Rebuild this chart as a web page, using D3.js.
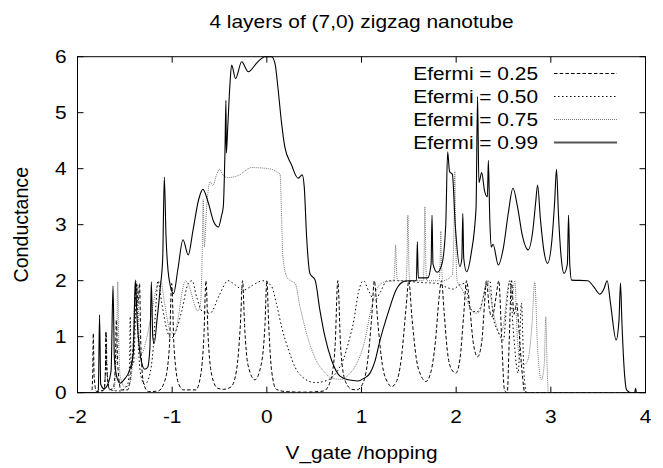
<!DOCTYPE html>
<html>
<head>
<meta charset="utf-8">
<script src="https://cdn.jsdelivr.net/npm/d3@7"></script>
<style>
  body { margin: 0; background: #fff; }
  text { font-family: "Liberation Sans", Arial, sans-serif; fill: #000; }
</style>
</head>
<body>
<svg id="chart" width="663" height="468"></svg>
<script>
// ---- data ----
const titleText = "4 layers of (7,0) zigzag nanotube";
const xLabel = "V_gate /hopping";
const yLabel = "Conductance";
const xTicks = [-2, -1, 0, 1, 2, 3, 4];
const yTicks = [0, 1, 2, 3, 4, 5, 6];
const seriesNames = ["Efermi = 0.25", "Efermi = 0.50", "Efermi = 0.75", "Efermi = 0.99"];

const ef025 = [
  [-2,0],[-1.85,0],[-1.84,0.3],[-1.833,1.06],[-1.825,0.3],[-1.8,0.02],[-1.72,0.05],[-1.705,0.4],[-1.7,1.09],
  [-1.69,0.4],[-1.66,0.05],[-1.62,0.1],[-1.6,0.5],[-1.59,1.3],[-1.575,0.5],[-1.54,0.05],[-1.47,0.05],[-1.44,0.3],
  [-1.4,1.2],[-1.38,1.95],[-1.36,1.6],[-1.345,1.95],[-1.33,0.8],[-1.3,0.15],[-1.25,0.02],[-1.15,0.03],[-1.08,0.2],
  [-1.03,0.8],[-1.005,1.95],[-0.98,0.8],[-0.93,0.15],[-0.88,0.05],[-0.75,0.05],[-0.7,0.3],[-0.665,1.0],[-0.643,2.0],
  [-0.62,1.0],[-0.58,0.3],[-0.52,0.08],[-0.46,0.06],[-0.38,0.1],[-0.32,0.4],[-0.28,1.2],[-0.256,2.0],[-0.235,1.2],
  [-0.2,0.5],[-0.126,0.23],[-0.06,0.5],[-0.02,1.2],[0.0,2.0],[0.02,1.2],[0.05,0.4],[0.1,0.06],[0.2,0.02],[0.4,0.01],
  [0.6,0.03],[0.67,0.2],[0.72,0.8],[0.75,2.0],[0.78,0.8],[0.83,0.2],[0.9,0.06],[0.95,0.05],[1.0,0.12],[1.06,0.5],
  [1.11,1.4],[1.135,2.0],[1.17,1.3],[1.22,0.5],[1.27,0.2],[1.32,0.11],[1.37,0.2],[1.42,0.6],[1.47,1.5],[1.5,2.0],
  [1.53,1.4],[1.58,0.6],[1.63,0.3],[1.68,0.2],[1.73,0.35],[1.78,0.9],[1.82,1.7],[1.846,2.0],[1.87,1.5],[1.91,0.7],
  [1.95,0.42],[1.997,0.35],[2.04,0.6],[2.08,1.4],[2.11,2.0],[2.14,1.6],[2.18,0.9],[2.226,0.64],[2.27,0.9],[2.3,1.6],
  [2.32,2.0],[2.35,1.5],[2.38,1.35],[2.42,1.7],[2.45,2.0],[2.48,1.0],[2.51,0.05],[2.54,0.0],[2.56,0.9],[2.585,2.0],
  [2.61,1.4],[2.64,1.6],[2.66,1.2],[2.7,0.3],[2.725,0.0],[4,0]
];

const ef050 = [
  [-2,0],[-1.75,0],[-1.72,0.05],[-1.705,0.4],[-1.697,1.07],[-1.688,0.4],[-1.66,0.05],[-1.55,0.03],[-1.47,0.15],
  [-1.45,0.5],[-1.443,1.36],[-1.435,0.5],[-1.41,0.5],[-1.39,1.2],[-1.375,1.95],[-1.36,1.0],[-1.33,0.3],[-1.29,0.15],
  [-1.24,0.3],[-1.2,0.8],[-1.17,1.6],[-1.15,2.0],[-1.11,1.6],[-1.06,1.15],[-1.01,0.97],[-0.95,1.15],[-0.9,1.45],
  [-0.83,1.95],[-0.79,2.0],[-0.74,1.7],[-0.68,1.45],[-0.6,1.42],[-0.5,1.75],[-0.41,2.0],[-0.33,1.92],[-0.25,1.83],
  [-0.15,1.92],[-0.04,2.0],[0.05,1.9],[0.1,1.6],[0.16,1.15],[0.23,0.76],[0.3,0.45],[0.37,0.29],[0.51,0.18],
  [0.65,0.23],[0.75,0.4],[0.81,0.6],[0.86,0.88],[0.92,1.3],[0.965,1.77],[1.02,2.0],[1.08,1.8],[1.14,1.65],[1.2,1.8],
  [1.27,2.0],[1.4,2.0],[1.6,1.97],[1.8,1.95],[1.9,1.88],[1.97,1.85],[2.03,1.92],[2.09,1.95],[2.145,1.54],[2.18,1.45],
  [2.23,1.45],[2.28,1.65],[2.32,1.95],[2.356,2.0],[2.39,1.36],[2.44,1.1],[2.5,0.94],[2.53,1.5],[2.567,2.0],[2.6,1.2],
  [2.655,0.35],[2.69,1.6],[2.715,0.4],[2.743,0.0],[4,0]
];

const ef075 = [
  [-2,0],[-1.62,0],[-1.6,0.3],[-1.585,1.0],[-1.575,1.98],[-1.565,1.0],[-1.55,0.3],[-1.5,0.1],[-1.45,0.15],[-1.42,0.5],
  [-1.4,1.5],[-1.385,2.0],[-1.365,1.9],[-1.35,1.0],[-1.32,0.7],[-1.28,0.9],[-1.22,1.4],[-1.16,1.9],[-1.12,1.99],
  [-1.08,1.6],[-1.03,1.15],[-0.98,1.05],[-0.93,1.4],[-0.9,1.75],[-0.86,2.0],[-0.81,1.85],[-0.76,1.55],[-0.73,1.46],
  [-0.7,1.6],[-0.685,2.3],[-0.672,3.45],[-0.66,2.6],[-0.64,3.2],[-0.62,3.6],[-0.6,3.77],[-0.57,3.7],[-0.53,3.9],
  [-0.5,3.99],[-0.46,3.88],[-0.41,3.84],[-0.3,3.88],[-0.16,4.02],[0.02,4.0],[0.1,3.95],[0.14,3.9],[0.156,3.14],
  [0.17,2.43],[0.21,2.07],[0.25,2.0],[0.3,1.95],[0.35,1.54],[0.44,0.94],[0.54,0.52],[0.62,0.35],[0.68,0.26],
  [0.79,0.24],[0.88,0.35],[0.93,0.46],[1.036,0.94],[1.107,1.54],[1.176,1.89],[1.247,1.98],[1.34,2.0],[1.35,2.2],
  [1.36,2.64],[1.37,2.2],[1.38,2.0],[1.47,2.0],[1.48,2.3],[1.49,3.17],[1.5,2.3],[1.51,2.0],[1.65,2.0],[1.66,2.3],
  [1.67,3.32],[1.68,2.3],[1.69,2.0],[1.82,2.0],[1.83,2.3],[1.838,2.88],[1.845,2.3],[1.86,2.0],[1.96,2.1],[1.975,2.8],
  [1.986,3.95],[1.995,2.8],[2.01,2.0],[2.06,1.85],[2.1,1.7],[2.15,1.5],[2.2,1.42],[2.25,1.45],[2.29,1.75],[2.33,2.0],
  [2.36,1.75],[2.41,1.3],[2.46,1.05],[2.5,1.2],[2.54,1.8],[2.567,2.0],[2.59,1.7],[2.62,2.0],[2.645,1.0],[2.68,0.55],
  [2.72,0.5],[2.76,0.6],[2.8,1.2],[2.83,1.98],[2.86,0.8],[2.9,0.23],[2.93,0.5],[2.947,1.36],[2.96,0.5],[2.975,0],[4,0]
];

const ef099 = [
  [-2,0],[-1.8,0],[-1.78,0.05],[-1.767,1.39],[-1.755,0.15],[-1.72,0.07],[-1.68,0.15],[-1.645,0.4],[-1.625,1.91],
  [-1.61,0.6],[-1.58,0.25],[-1.55,0.17],[-1.5,0.25],[-1.45,0.4],[-1.41,0.7],[-1.39,2.01],[-1.37,1.3],[-1.33,0.6],
  [-1.29,0.42],[-1.26,0.45],[-1.235,0.8],[-1.22,1.98],[-1.205,1.0],[-1.19,0.88],[-1.16,1.3],[-1.125,1.89],[-1.1,2.4],
  [-1.083,3.85],[-1.065,2.8],[-1.03,2.0],[-0.985,1.77],[-0.94,2.2],[-0.886,2.73],[-0.83,2.46],[-0.78,2.9],
  [-0.72,3.45],[-0.675,3.63],[-0.62,3.4],[-0.56,3.05],[-0.51,2.96],[-0.48,3.15],[-0.46,3.32],[-0.442,4.33],
  [-0.432,5.22],[-0.428,4.28],[-0.414,4.7],[-0.39,5.5],[-0.372,5.85],[-0.33,5.61],[-0.266,5.91],[-0.196,5.73],
  [-0.1,5.9],[-0.02,6.0],[0.05,6.0],[0.086,5.88],[0.12,5.4],[0.156,4.81],[0.19,4.39],[0.26,4.07],[0.33,3.83],
  [0.374,3.89],[0.395,3.68],[0.42,2.79],[0.455,2.13],[0.51,2.01],[0.56,1.48],[0.614,1.0],[0.684,0.58],[0.77,0.3],
  [0.86,0.23],[0.96,0.21],[1.03,0.26],[1.09,0.35],[1.14,0.55],[1.19,0.9],[1.28,1.42],[1.37,1.85],[1.44,1.98],
  [1.5,2.0],[1.58,2.0],[1.59,2.7],[1.6,2.05],[1.7,2.05],[1.735,2.3],[1.745,3.17],[1.755,2.3],[1.8,2.15],[1.85,2.3],
  [1.89,3.0],[1.91,4.3],[1.93,3.95],[1.96,3.9],[1.99,3.0],[2.04,2.25],[2.06,2.4],[2.07,3.2],[2.08,2.4],[2.11,2.16],
  [2.16,2.5],[2.21,3.3],[2.226,5.29],[2.24,3.75],[2.27,3.93],[2.3,3.6],[2.33,3.5],[2.34,4.15],[2.355,3.1],[2.37,2.6],
  [2.39,2.65],[2.445,2.28],[2.5,2.6],[2.55,3.2],[2.6,3.65],[2.65,3.3],[2.7,2.8],[2.76,2.55],[2.81,2.9],[2.84,3.4],
  [2.86,3.71],[2.89,3.1],[2.93,2.5],[2.965,2.31],[3.01,2.7],[3.04,3.4],[3.06,3.99],[3.08,3.2],[3.11,2.4],[3.14,2.13],
  [3.175,2.3],[3.187,3.17],[3.2,2.3],[3.22,2.01],[3.39,2.0],[3.45,1.9],[3.52,1.76],[3.56,1.85],[3.595,2.0],[3.63,1.6],
  [3.69,0.94],[3.72,1.3],[3.736,1.96],[3.75,1.3],[3.78,0.3],[3.8,0.05],[3.85,0],[3.885,0],[3.895,0.08],[3.905,0],[4,0]
];

const seriesData = [ef025, ef050, ef075, ef099];
// line styles per series (gnuplot-ish)
const seriesStyle = [
  { stroke: "#000", width: 1, dash: "3.5,2.2" },
  { stroke: "#000", width: 1, dash: "1.5,2.5" },
  { stroke: "#777", width: 1, dash: "1,1" },
  { stroke: "#000", width: 1.1, dash: null }
];

/******************************************************
 * layout
 ******************************************************/
const margin = { top: 56.7, left: 77.5, right: 17.5, bottom: 75.3 };
const W = 663, H = 468;
const innerW = W - margin.left - margin.right;
const innerH = H - margin.top - margin.bottom;
const stretch = 1.13; // text in the reference is a little wider than tall

const svg = d3.select("#chart");
const g = svg.append("g").attr("transform", `translate(${margin.left},${margin.top})`);

const x = d3.scaleLinear().domain([-2, 4]).range([0, innerW]);
const y = d3.scaleLinear().domain([0, 6]).range([innerH, 0]);

function label(sel, tx, ty, txt, size, anchor) {
  return sel.append("text")
    .attr("transform", `translate(${tx},${ty}) scale(${stretch},1)`)
    .attr("text-anchor", anchor)
    .style("font-size", size + "px")
    .text(txt);
}

// clip the curves to the frame
svg.append("defs").append("clipPath").attr("id", "plotclip")
  .append("rect").attr("x", 0).attr("y", -1).attr("width", innerW).attr("height", innerH + 1);

const line = d3.line()
  .x(d => x(d[0]))
  .y(d => y(d[1]))
  .curve(d3.curveMonotoneX);

const curves = g.append("g").attr("clip-path", "url(#plotclip)");
seriesData.forEach((data, i) => {
  const st = seriesStyle[i];
  curves.append("path")
    .datum(data)
    .attr("fill", "none")
    .attr("stroke", st.stroke)
    .attr("stroke-width", st.width)
    .attr("stroke-dasharray", st.dash)
    .attr("d", line);
});

// ticks (inward, mirrored on all sides like gnuplot)
const tickLen = 6;
const ticks = g.append("g").attr("stroke", "#000").attr("stroke-width", 1);
xTicks.forEach(t => {
  ticks.append("line").attr("x1", x(t)).attr("x2", x(t)).attr("y1", innerH).attr("y2", innerH - tickLen);
  ticks.append("line").attr("x1", x(t)).attr("x2", x(t)).attr("y1", 0).attr("y2", tickLen);
});
yTicks.forEach(t => {
  ticks.append("line").attr("x1", 0).attr("x2", tickLen).attr("y1", y(t)).attr("y2", y(t));
  ticks.append("line").attr("x1", innerW).attr("x2", innerW - tickLen).attr("y1", y(t)).attr("y2", y(t));
});

// frame
g.append("rect")
  .attr("x", 0).attr("y", 0).attr("width", innerW).attr("height", innerH)
  .attr("fill", "none").attr("stroke", "#000").attr("stroke-width", 1);

// tick labels
xTicks.forEach(t => label(g, x(t), innerH + 30.5, t, 18.5, "middle"));
yTicks.forEach(t => label(g, -11, y(t) + 6.6, t, 18.5, "end"));

// titles
label(svg, margin.left + innerW / 2, 28, titleText, 18.5, "middle");
label(svg, margin.left + innerW / 2, 459, xLabel, 18.5, "middle");
svg.append("text")
  .attr("transform", `translate(28,${margin.top + innerH / 2}) rotate(-90) scale(1.06,1.1)`)
  .attr("text-anchor", "middle")
  .style("font-size", "18.5px")
  .text(yLabel);

// legend (top right, inside the frame)
const legend = svg.append("g");
seriesNames.forEach((name, i) => {
  const cy = 73.5 + i * 23;
  label(legend, 538, cy + 6.6, name, 18.5, "end");
  const st = seriesStyle[i];
  legend.append("line")
    .attr("x1", 554).attr("x2", 617).attr("y1", cy).attr("y2", cy)
    .attr("stroke", i === 3 ? "#555" : st.stroke)
    .attr("stroke-width", i === 3 ? 2 : st.width)
    .attr("stroke-dasharray", st.dash);
});
</script>
</body>
</html>
